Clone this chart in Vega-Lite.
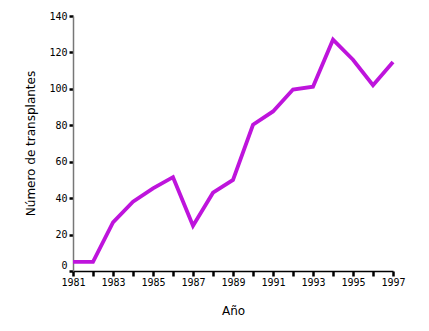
{
  "$schema": "https://vega.github.io/schema/vega-lite/v6.json",
  "autosize": {"type": "none"},
  "padding": {"left": 73, "top": 16, "right": 36, "bottom": 60},
  "width": 320,
  "height": 255,
  "background": "white",
  "config": {"view": {"stroke": null}},
  "data": {"values": [
    {"year": 1981, "n": 5},
    {"year": 1982, "n": 5},
    {"year": 1983, "n": 26.7},
    {"year": 1984, "n": 38},
    {"year": 1985, "n": 45.4},
    {"year": 1986, "n": 51.5},
    {"year": 1987, "n": 24.8},
    {"year": 1988, "n": 43},
    {"year": 1989, "n": 50},
    {"year": 1990, "n": 80.3},
    {"year": 1991, "n": 87.6},
    {"year": 1992, "n": 99.6},
    {"year": 1993, "n": 101.2},
    {"year": 1994, "n": 127},
    {"year": 1995, "n": 116},
    {"year": 1996, "n": 102},
    {"year": 1997, "n": 114.8}
  ]},
  "mark": {"type": "line", "color": "#BE14DC", "strokeWidth": 3.8, "strokeJoin": "miter"},
  "encoding": {
    "x": {
      "field": "year", "type": "quantitative",
      "scale": {"domain": [1981, 1997], "nice": false, "zero": false},
      "axis": {
        "title": "Año",
        "values": [1981,1982,1983,1984,1985,1986,1987,1988,1989,1990,1991,1992,1993,1994,1995,1996,1997],
        "labelExpr": "(datum.value - 1981) % 2 == 0 ? datum.value : ''",
        "format": "d",
        "grid": false,
        "domainColor": "black", "domainWidth": 1.5,
        "tickColor": "black", "tickWidth": 2.5, "tickSize": 5,
        "labelFont": "DejaVu Sans Mono", "labelFontSize": 10, "labelColor": "black",
        "labelPadding": 1, "labelFlush": false, "labelOverlap": false,
        "titleFont": "DejaVu Sans", "titleFontSize": 12, "titleFontWeight": "normal", "titleColor": "black",
        "titleY": 39, "titleBaseline": "middle"
      }
    },
    "y": {
      "field": "n", "type": "quantitative",
      "scale": {"domain": [0, 140], "nice": false},
      "axis": {
        "title": "Número de transplantes",
        "values": [0, 20, 40, 60, 80, 100, 120, 140],
        "grid": false,
        "domainColor": "#777777", "domainWidth": 1.5,
        "tickColor": "black", "tickWidth": 2.5, "tickSize": 4,
        "labelFont": "DejaVu Sans Mono", "labelFontSize": 10, "labelColor": "black",
        "labelPadding": 2,
        "labelOffset": {"condition": {"test": "datum.value == 0", "value": -6}, "value": 0},
        "titleFont": "DejaVu Sans", "titleFontSize": 12, "titleFontWeight": "normal", "titleColor": "black",
        "titleX": -43, "titleY": 127, "titleBaseline": "middle", "titleAlign": "center", "titleAngle": -90
      }
    }
  }
}
